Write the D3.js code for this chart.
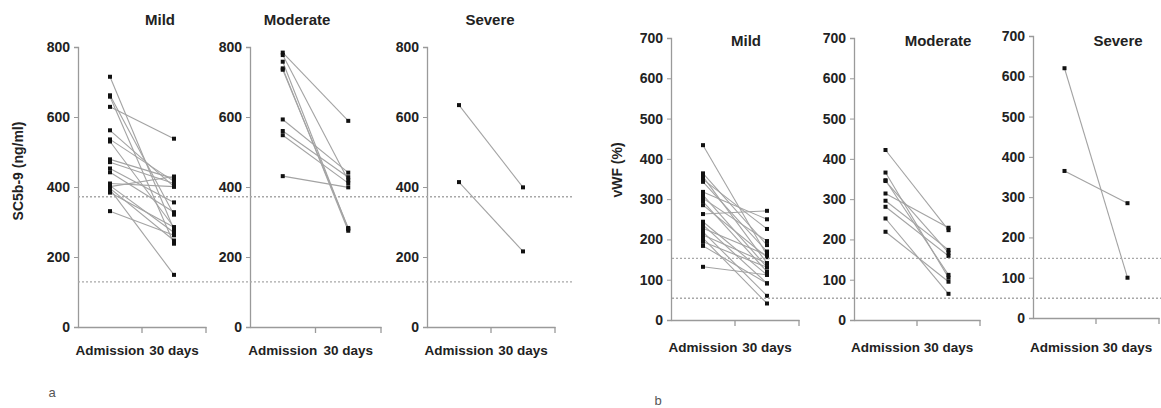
<!DOCTYPE html>
<html>
<head>
<meta charset="utf-8">
<script src="https://cdn.jsdelivr.net/npm/d3@7"></script>
<style>
  html, body { margin: 0; padding: 0; background: #fff; }
  svg { display: block; font-family: "Liberation Sans", Arial, sans-serif; }
</style>
</head>
<body>
<svg id="chart" width="1161" height="408"></svg>
<script>
// ---------- DATA ----------
const categories = ["Admission", "30 days"];
const groups = ["Mild", "Moderate", "Severe"];

// Panel a: SC5b-9 (ng/ml)
const sc5Ticks = [0, 200, 400, 600, 800];
const sc5RefLines = [372, 129];
const sc5MildAdmission = [715, 662, 658, 629, 562, 536, 530, 479, 471, 453, 442, 410, 404, 401, 396, 393, 384, 331];
const sc5Mild30Days    = [278, 321, 238, 538, 401, 416, 285, 424, 410, 356, 328, 401, 270, 430, 247, 149, 285, 262];
const sc5ModAdmission  = [784, 777, 758, 739, 735, 593, 560, 548, 431];
const sc5Mod30Days     = [589, 419, 280, 275, 283, 441, 428, 411, 399];
const sc5SevAdmission  = [634, 414];
const sc5Sev30Days     = [399, 216];

// Panel b: vWF (%)
const vwfTicks = [0, 100, 200, 300, 400, 500, 600, 700];
const vwfRefLines = [153, 54];
const vwfMildAdmission = [434, 364, 356, 349, 343, 318, 310, 302, 294, 285, 263, 244, 236, 228, 219, 211, 203, 194, 184, 132];
const vwfMild30Days    = [161, 186, 141, 226, 170, 250, 131, 196, 120, 156, 271, 112, 91, 161, 60, 141, 41, 131, 91, 112];
const vwfModAdmission  = [422, 366, 347, 345, 314, 296, 281, 252, 219];
const vwfMod30Days     = [223, 105, 112, 167, 229, 174, 159, 65, 95];
const vwfSevAdmission  = [620, 365];
const vwfSev30Days     = [100, 285];

// ---------- DRAWING ----------
const svg = d3.select("#chart");
const AXIS = "#9a9a9a", LINE = "#a3a3a3", TEXT = "#222", REF = "#a8a8a8";

function panel(cfg) {
  const g = svg.append("g");
  const y = d3.scaleLinear().domain([0, cfg.max]).range([cfg.yBottom, cfg.yTop]);
  const x = d3.scaleBand().domain(categories).range([cfg.x0, cfg.x1]).padding(0);

  // y axis
  const ya = g.append("g").attr("transform", `translate(${cfg.x0},0)`)
    .call(d3.axisLeft(y).tickValues(cfg.ticks).tickSize(4).tickPadding(4).tickFormat(d3.format("d")));
  ya.select(".domain").attr("stroke", AXIS).attr("stroke-width", 1.3);
  ya.selectAll(".tick line").attr("stroke", AXIS);
  ya.selectAll(".tick text").attr("fill", TEXT).attr("font-size", 14).attr("font-weight", "bold")
    .attr("font-family", "Liberation Sans, Arial, sans-serif");

  // x axis
  const xa = g.append("g").attr("transform", `translate(0,${cfg.yBottom})`)
    .call(d3.axisBottom(x).tickSize(0).tickPadding(cfg.labelPad));
  xa.select(".domain").attr("stroke", AXIS).attr("stroke-width", 1.3);
  xa.selectAll(".tick text").attr("fill", TEXT).attr("font-size", 13.5).attr("font-weight", "bold")
    .attr("font-family", "Liberation Sans, Arial, sans-serif");
  // band boundary tick marks
  const bounds = [x.range()[0] + x.bandwidth(), x.range()[1]];
  g.selectAll(".bt").data(bounds).join("line")
    .attr("x1", d => d).attr("x2", d => d)
    .attr("y1", cfg.yBottom).attr("y2", cfg.yBottom + 6)
    .attr("stroke", AXIS).attr("stroke-width", 1.3);

  // connecting lines
  const xa0 = x(categories[0]) + x.bandwidth() / 2;
  const xa1 = x(categories[1]) + x.bandwidth() / 2;
  const pairs = cfg.adm.map((v, i) => [v, cfg.d30[i]]);
  g.selectAll(".pl").data(pairs).join("line")
    .attr("x1", xa0).attr("y1", d => y(d[0]))
    .attr("x2", xa1).attr("y2", d => y(d[1]))
    .attr("stroke", LINE).attr("stroke-width", 1.1);

  // points
  const pts = [];
  pairs.forEach(p => { pts.push([xa0, p[0]]); pts.push([xa1, p[1]]); });
  g.selectAll(".pt").data(pts).join("rect")
    .attr("x", d => d[0] - 2).attr("y", d => y(d[1]) - 2)
    .attr("width", 4).attr("height", 4).attr("fill", "#111");

  // title
  g.append("text").attr("x", cfg.titleX).attr("y", cfg.titleY)
    .attr("text-anchor", "middle").attr("font-size", 15).attr("font-weight", "bold")
    .attr("fill", TEXT).text(cfg.title);
  return y;
}

function refLines(values, y, xStart, xEnd) {
  svg.append("g").selectAll("line").data(values).join("line")
    .attr("x1", xStart).attr("x2", xEnd)
    .attr("y1", d => y(d)).attr("y2", d => y(d))
    .attr("stroke", REF).attr("stroke-width", 1.4).attr("stroke-dasharray", "2,2");
}

// Panel a
const aTop = 47, aBottom = 327;
const ya = panel({x0: 78, x1: 206, yTop: aTop, yBottom: aBottom, max: 800, ticks: sc5Ticks, labelPad: 18,
  title: groups[0], titleX: 160, titleY: 25, adm: sc5MildAdmission, d30: sc5Mild30Days});
panel({x0: 250, x1: 381, yTop: aTop, yBottom: aBottom, max: 800, ticks: sc5Ticks, labelPad: 18,
  title: groups[1], titleX: 297, titleY: 25, adm: sc5ModAdmission, d30: sc5Mod30Days});
panel({x0: 427, x1: 555, yTop: aTop, yBottom: aBottom, max: 800, ticks: sc5Ticks, labelPad: 18,
  title: groups[2], titleX: 490, titleY: 25, adm: sc5SevAdmission, d30: sc5Sev30Days});
refLines(sc5RefLines, ya, 78, 573);

// Panel b
const bTop = 38, bBottom = 320;
const yb = panel({x0: 671, x1: 799, yTop: bTop, yBottom: bBottom, max: 700, ticks: vwfTicks, labelPad: 22,
  title: groups[0], titleX: 746, titleY: 46, adm: vwfMildAdmission, d30: vwfMild30Days});
panel({x0: 854, x1: 980, yTop: bTop, yBottom: bBottom, max: 700, ticks: vwfTicks, labelPad: 22,
  title: groups[1], titleX: 938, titleY: 46, adm: vwfModAdmission, d30: vwfMod30Days});
panel({x0: 1033, x1: 1159, yTop: bTop - 2, yBottom: bBottom - 2, max: 700, ticks: vwfTicks, labelPad: 24,
  title: groups[2], titleX: 1118, titleY: 46, adm: vwfSevAdmission, d30: vwfSev30Days});
refLines(vwfRefLines, yb, 672, 1161);

// axis titles
svg.append("text").attr("transform", "translate(23,171) rotate(-90)")
  .attr("text-anchor", "middle").attr("font-size", 14).attr("font-weight", "bold")
  .attr("fill", TEXT).text("SC5b-9 (ng/ml)");
svg.append("text").attr("transform", "translate(622,170) rotate(-90)")
  .attr("text-anchor", "middle").attr("font-size", 14).attr("font-weight", "bold")
  .attr("fill", TEXT).text("vWF (%)");

// panel letters
svg.append("text").attr("x", 52).attr("y", 397).attr("text-anchor", "middle")
  .attr("font-size", 13).attr("fill", "#555").text("a");
svg.append("text").attr("x", 658).attr("y", 405).attr("text-anchor", "middle")
  .attr("font-size", 13).attr("fill", "#555").text("b");
</script>
</body>
</html>
